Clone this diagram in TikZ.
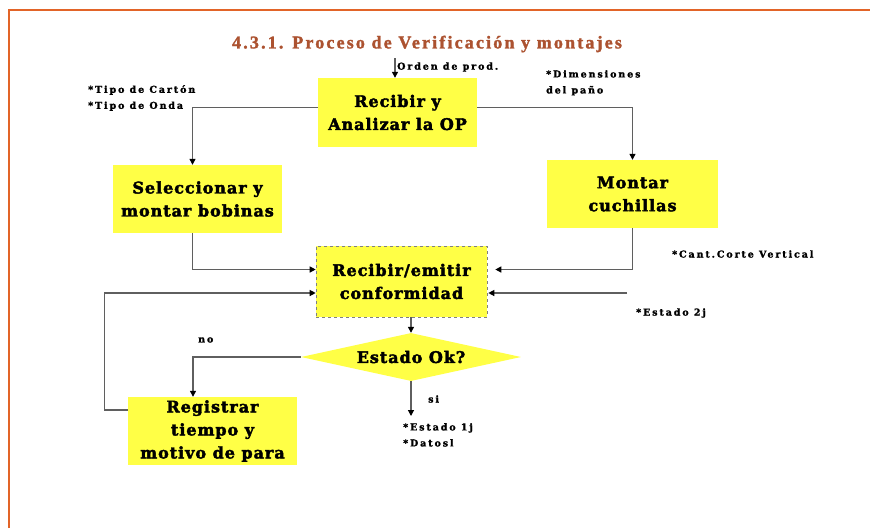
\documentclass[tikz,border=0pt]{standalone}
\usepackage{fontspec}
\usetikzlibrary{shapes.geometric,arrows.meta}
\newfontfamily\boxfont[LetterSpace=6,FakeBold=2.5]{DejaVu Serif}
\newfontfamily\lblfont[LetterSpace=20,FakeBold=1.5]{DejaVu Serif}
\newfontfamily\titlefont[LetterSpace=12,FakeBold=1.5]{Liberation Serif}
\definecolor{frameor}{RGB}{226,100,40}
\definecolor{titlec}{RGB}{172,82,48}
\definecolor{boxy}{RGB}{255,255,70}
\definecolor{linec}{RGB}{95,95,95}
\tikzset{
  procbox/.style={fill=boxy, draw=none, align=center, inner sep=0pt,
    font=\boxfont\bfseries\fontsize{16}{23}\selectfont},
  lbl/.style={font=\lblfont\bfseries\fontsize{9.5}{16}\selectfont, align=left, inner sep=0pt},
  arr/.style={draw=linec, line width=1.2pt, -{Triangle[length=6pt,width=6pt,fill=black,color=black]}},
  ln/.style={draw=linec, line width=1.2pt}
}
\begin{document}
\begin{tikzpicture}[x=1pt,y=-1pt]
\useasboundingbox (0,0) rectangle (870,528);
\fill[white] (0,0) rectangle (870,528);
\draw[frameor, line width=2pt] (9,528) -- (9,10) -- (870,10);
\node[font=\titlefont\bfseries\fontsize{18}{20}\selectfont, text=titlec] (title) at (427,44) {4.3.1. Proceso de Verificación y montajes};

\node[procbox, minimum width=159pt, minimum height=69pt] (b1) at (397.5,112.5) {Recibir y\\Analizar la OP};
\node[procbox, minimum width=169pt, minimum height=68pt] (b2) at (197.5,199) {Seleccionar y\\montar bobinas};
\node[procbox, minimum width=171pt, minimum height=68pt] (b3) at (632.5,194) {Montar\\cuchillas};
\node[procbox, minimum width=171pt, minimum height=71pt, draw=gray, dashed, line width=0.6pt] (b4) at (401.5,281.5) {Recibir/emitir\\conformidad};
\node[procbox, shape=diamond, aspect=4.5, minimum width=220pt, minimum height=48pt] (dia) at (411,357) {Estado Ok?};
\node[procbox, minimum width=169pt, minimum height=68pt] (b5) at (212.5,431) {Registrar\\tiempo y\\motivo de para};

\coordinate (op) at (395,58);
\node[lbl, anchor=west] (orden) at (397,67) {Orden de prod.};
\node[lbl, anchor=north west] (tipo) at (88,85) {*Tipo de Cartón\\*Tipo de Onda};
\node[lbl, anchor=north west] (dim) at (546,70) {*Dimensiones\\del paño};
\node[lbl, anchor=west] (cant) at (672,254) {*Cant.Corte Vertical};
\node[lbl, anchor=west] (est2) at (636,313) {*Estado 2j};
\node[lbl, anchor=west] (no) at (198,340) {no};
\node[lbl, anchor=west] (si) at (428,399) {si};
\node[lbl, anchor=north west] (est1) at (403,423) {*Estado 1j\\*Datosl};

\coordinate (e2) at (627,293);
\coordinate (sidown) at (411,416);

\draw[arr] (op) -- (op |- b1.north);
\draw[arr] ([yshift=5pt]b1.west) -| ([xshift=-5pt]b2.north);
\draw[arr] ([yshift=5pt]b1.east) -| (b3.north);
\draw[arr] ([xshift=-5pt]b2.south) |- ([yshift=12pt]b4.west);
\draw[arr, shorten >=8pt] (b3.south) |- ([yshift=12pt]b4.east);
\draw[arr, shorten >=1pt] (e2) -- (e2 -| b4.east);
\draw[arr] ([yshift=21pt]b5.west) -- ++(-23,0) |- ([yshift=-11.5pt]b4.west);
\draw[arr] (dia.north |- b4.south) -- (dia.north);
\draw[arr] (dia.west) -| ([xshift=-19.5pt]b5.north);
\draw[arr] (dia.south) -- (sidown);
\end{tikzpicture}
\end{document}
